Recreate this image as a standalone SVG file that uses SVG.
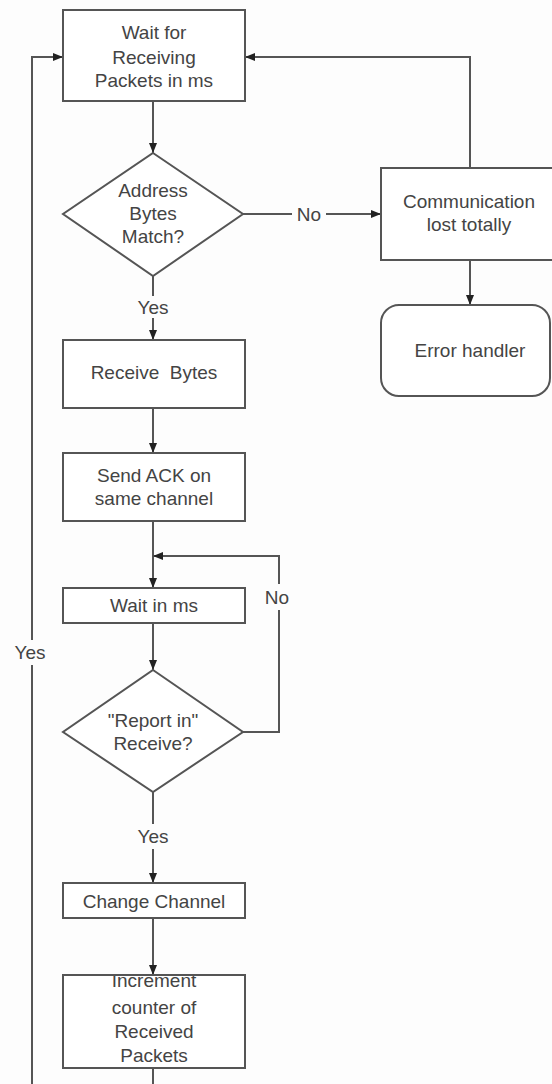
<svg xmlns="http://www.w3.org/2000/svg" width="552" height="1084" viewBox="0 0 552 1084">
<style>
.n{fill:#fff;stroke:#555;stroke-width:2}
.t{font-family:"Liberation Sans",Arial,sans-serif;font-size:19px;fill:#444;text-anchor:middle}
.c{fill:none;stroke:#555;stroke-width:2}
.lb{fill:#fdfdfd}
</style>
<defs>
<marker id="ah" viewBox="0 0 10 10" refX="10" refY="5" markerWidth="10" markerHeight="10" markerUnits="userSpaceOnUse" orient="auto">
<path d="M0,1 L10,5 L0,9 Z" fill="#222"/>
</marker>
<clipPath id="incClip"><rect x="64" y="976" width="180" height="91"/></clipPath>
</defs>
<rect width="552" height="1084" fill="#fdfdfd"/>
<g id="connectors">
<path class="c" d="M153,101 V153" marker-end="url(#ah)"/>
<path class="c" d="M243,214 H381" marker-end="url(#ah)"/>
<path class="c" d="M470,168 V57 H245" marker-end="url(#ah)"/>
<path class="c" d="M470,260 V305" marker-end="url(#ah)"/>
<path class="c" d="M153,276 V340" marker-end="url(#ah)"/>
<path class="c" d="M153,408 V453" marker-end="url(#ah)"/>
<path class="c" d="M153,521 V588" marker-end="url(#ah)"/>
<path class="c" d="M243,732 H279 V556 H153" marker-end="url(#ah)"/>
<path class="c" d="M153,623 V670" marker-end="url(#ah)"/>
<path class="c" d="M153,792 V883" marker-end="url(#ah)"/>
<path class="c" d="M153,918 V975" marker-end="url(#ah)"/>
<path class="c" d="M153,1068 V1100 H32 V57 H63" marker-end="url(#ah)"/>
<rect class="lb" x="292" y="204" width="34" height="20"/>
<text class="t" x="309" y="221">No</text>
<rect class="lb" x="134" y="296" width="38" height="22"/>
<text class="t" x="153" y="314">Yes</text>
<rect class="lb" x="264" y="584" width="30" height="26"/>
<text class="t" x="277" y="604">No</text>
<rect class="lb" x="12" y="640" width="38" height="25"/>
<text class="t" x="30" y="659">Yes</text>
<rect class="lb" x="134" y="824" width="38" height="25"/>
<text class="t" x="153" y="843">Yes</text>
</g>
<g id="wait-receive">
<rect class="n" x="63" y="10" width="182" height="91"/>
<text class="t" x="154" y="39">Wait for</text>
<text class="t" x="154" y="64">Receiving</text>
<text class="t" x="154" y="87">Packets in ms</text>
</g>
<g id="address-match">
<polygon class="n" points="153,153 243,214 153,276 63,214"/>
<text class="t" x="153" y="197">Address</text>
<text class="t" x="153" y="220">Bytes</text>
<text class="t" x="153" y="243">Match?</text>
</g>
<g id="comm-lost">
<rect class="n" x="381" y="168" width="172" height="92"/>
<text class="t" x="469" y="208">Communication</text>
<text class="t" x="469" y="231">lost totally</text>
</g>
<g id="error-handler">
<rect class="n" x="381" y="305" width="169" height="91" rx="18"/>
<text class="t" x="470" y="357">Error handler</text>
</g>
<g id="receive-bytes">
<rect class="n" x="63" y="340" width="182" height="68"/>
<text class="t" x="154" y="379" xml:space="preserve">Receive  Bytes</text>
</g>
<g id="send-ack">
<rect class="n" x="63" y="453" width="182" height="68"/>
<text class="t" x="154" y="482">Send ACK on</text>
<text class="t" x="154" y="505">same channel</text>
</g>
<g id="wait-ms">
<rect class="n" x="63" y="588" width="182" height="35"/>
<text class="t" x="154" y="612">Wait in ms</text>
</g>
<g id="report-in">
<polygon class="n" points="153,670 243,732 153,792 63,732"/>
<text class="t" x="153" y="727">"Report in"</text>
<text class="t" x="153" y="750">Receive?</text>
</g>
<g id="change-channel">
<rect class="n" x="63" y="883" width="182" height="35"/>
<text class="t" x="154" y="908">Change Channel</text>
</g>
<g id="increment">
<rect class="n" x="63" y="975" width="182" height="93"/>
<g clip-path="url(#incClip)">
<text class="t" x="154" y="987">Increment</text>
</g>
<text class="t" x="154" y="1014">counter of</text>
<text class="t" x="154" y="1038">Received</text>
<text class="t" x="154" y="1062">Packets</text>
</g>
</svg>
